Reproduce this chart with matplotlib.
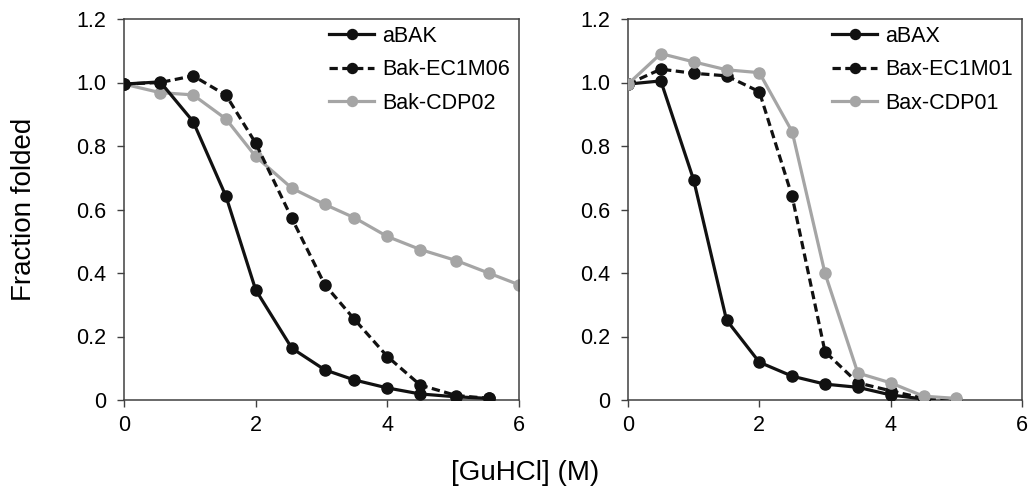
import matplotlib
matplotlib.use("Agg")
import matplotlib.pyplot as plt

plt.rcParams['font.family'] = ['Liberation Sans', 'DejaVu Sans']

# left panel: Bak
bak_x = [0, 0.55, 1.05, 1.55, 2.0, 2.55, 3.05, 3.5, 4.0, 4.5, 5.05, 5.55]
abak = [0.995, 1.002, 0.877, 0.641, 0.347, 0.163, 0.095, 0.063, 0.038, 0.019, 0.010, 0.005]
bak_ec = [0.995, 1.0, 1.021, 0.960, 0.809, 0.572, 0.363, 0.254, 0.137, 0.047, 0.014, 0.005]
cdp_x = [0, 0.55, 1.05, 1.55, 2.0, 2.55, 3.05, 3.5, 4.0, 4.5, 5.05, 5.55, 6.0]
bak_cdp = [0.995, 0.968, 0.961, 0.885, 0.767, 0.667, 0.616, 0.574, 0.515, 0.474, 0.439, 0.399, 0.363]

# right panel: Bax
bax_x = [0, 0.5, 1.0, 1.5, 2.0, 2.5, 3.0, 3.5, 4.0, 4.5]
abax = [0.995, 1.005, 0.693, 0.252, 0.119, 0.075, 0.050, 0.040, 0.016, 0.003]
bax_x2 = [0, 0.5, 1.0, 1.5, 2.0, 2.5, 3.0, 3.5, 4.0, 4.5, 5.0]
bax_ec = [0.995, 1.042, 1.029, 1.021, 0.971, 0.641, 0.152, 0.054, 0.029, 0.005, 0.0]
bax_cdp = [0.995, 1.091, 1.065, 1.040, 1.031, 0.845, 0.399, 0.085, 0.054, 0.012, 0.005]

xticks = [0, 2, 4, 6]
yticks = [0, 0.2, 0.4, 0.6, 0.8, 1.0, 1.2]
ytlabels = ['0', '0.2', '0.4', '0.6', '0.8', '1.0', '1.2']

black = '#111111'
gray = '#a5a5a5'
lw = 2.3
ms = 8
dash = (2.6, 1.4)

fig = plt.figure(figsize=(10.31, 5), dpi=100)
ax1 = fig.add_axes([124/1031, 0.2, 395/1031, 381/500])
ax2 = fig.add_axes([628/1031, 0.2, 394/1031, 381/500])

ax1.plot(bak_x, abak, '-o', color=black, lw=lw, ms=ms, label='aBAK', zorder=3)
ax1.plot(bak_x, bak_ec, '--o', color=black, lw=lw, ms=ms, dashes=dash,
         label='Bak-EC1M06', zorder=3)
ax1.plot(cdp_x, bak_cdp, '-o', color=gray, lw=lw, ms=ms, label='Bak-CDP02', zorder=2)

ax2.plot(bax_x, abax, '-o', color=black, lw=lw, ms=ms, label='aBAX', zorder=3)
ax2.plot(bax_x2, bax_ec, '--o', color=black, lw=lw, ms=ms, dashes=dash,
         label='Bax-EC1M01', zorder=3)
ax2.plot(bax_x2, bax_cdp, '-o', color=gray, lw=lw, ms=ms, label='Bax-CDP01', zorder=4)

for ax in (ax1, ax2):
    ax.set_xlim(0, 6)
    ax.set_ylim(0, 1.2)
    ax.set_xticks(xticks)
    ax.set_yticks(yticks)
    ax.set_yticklabels(ytlabels)
    ax.tick_params(direction='out', length=5, width=1, labelsize=15.5, color='#404040')
    ax.tick_params(axis='x', pad=6)
    ax.tick_params(axis='y', pad=8)
    for s in ax.spines.values():
        s.set_color('#404040')
        s.set_linewidth(1.1)
    ax.legend(loc='upper right', bbox_to_anchor=(0.998, 1.005), frameon=False,
              borderaxespad=0, fontsize=15.5, handlelength=2.07, handletextpad=0.37,
              labelspacing=0.58, markerscale=0.9)

ax1.set_ylabel('Fraction folded', fontsize=20)
ax1.yaxis.set_label_coords(-0.22, 0.5)
fig.text(525/1031, 1 - 473/500, '[GuHCl] (M)', fontsize=20, ha='center', va='center')

fig.savefig('out.png', dpi=100)
